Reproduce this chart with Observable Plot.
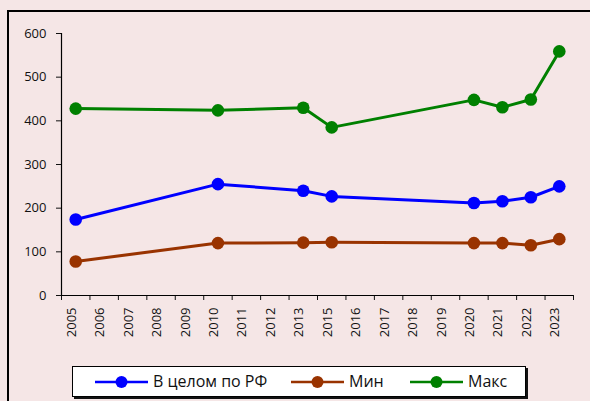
<!DOCTYPE html>
<html><head><meta charset="utf-8">
<script src="https://cdn.jsdelivr.net/npm/d3@7"></script>
<script src="https://cdn.jsdelivr.net/npm/@observablehq/plot@0.6"></script>
<style>
html,body{margin:0;padding:0;background:#f5e6e6;overflow:hidden;width:590px;height:401px}
#chart{position:absolute;left:0;top:0}
#bl{position:absolute;left:7px;top:10px;width:2px;height:400px;background:#000;z-index:5}
#bt{position:absolute;left:7px;top:10px;width:600px;height:2px;background:#000;z-index:5}
#legend{position:absolute;left:72px;top:366px;width:454px;height:31px;background:#fff;border:1px solid #000;box-shadow:2px 2px 0 #111;box-sizing:border-box;font:16px "Open Sans",sans-serif;color:#111}
.item{position:absolute;top:0;height:29px;display:flex;align-items:center}
.item svg{display:block}
.lbl{position:absolute;top:0;height:29px;line-height:29px;white-space:nowrap}
</style></head>
<body>
<div id="chart"></div>
<div id="bl"></div>
<div id="bt"></div>
<div id="legend"></div>
<script>
const categories = ["2005","2006","2007","2008","2009","2010","2011","2012","2013","2015","2016","2017","2018","2019","2020","2021","2022","2023"];
const dataYears = ["2005","2010","2013","2015","2020","2021","2022","2023"];
const seriesNames = ["В целом по РФ","Мин","Макс"];
const seriesColors = ["#0000ff","#993300","#008000"];
const avgValues = [174,255,240,227,212,216,225,250];
const minValues = [78,120,121,122,120,120,115,129];
const maxValues = [428,424,430,385,448,431,449,559];
const yTicks = [0,100,200,300,400,500,600];

const pos = y => categories.indexOf(y) + 0.5;
const data = [];
[avgValues, minValues, maxValues].forEach((vals, k) => {
  dataYears.forEach((yr, i) => data.push({x: pos(yr), v: vals[i], s: seriesNames[k]}));
});

const chart = Plot.plot({
  width: 590,
  height: 362,
  marginLeft: 61,
  marginRight: 17,
  marginTop: 33,
  marginBottom: 67,
  style: {background: "transparent", fontFamily: "'Open Sans', sans-serif", fontSize: "13px", color: "#111", overflow: "visible"},
  x: {domain: [0, categories.length], axis: null},
  y: {domain: [0, 600], axis: null},
  color: {domain: seriesNames, range: seriesColors},
  marks: [
    Plot.axisY({ticks: yTicks, tickSize: 5, tickPadding: 10, tickFormat: d => String(d), fontSize: 13, label: null}),
    Plot.axisX({ticks: d3.range(categories.length + 1), tickSize: 5, tickFormat: () => "", label: null}),
    Plot.ruleX([0], {stroke: "#000", strokeWidth: 1.2}),
    Plot.ruleY([0], {stroke: "#000", strokeWidth: 1.2}),
    Plot.text(categories, {x: (d, i) => i + 0.5, text: d => d, frameAnchor: "bottom", rotate: -90, textAnchor: "end", dy: 12, fontSize: 13, fill: "#111"}),
    Plot.line(data, {x: "x", y: "v", z: "s", stroke: "s", strokeWidth: 3}),
    Plot.dot(data, {x: "x", y: "v", fill: "s", r: 6.3})
  ]
});
document.getElementById("chart").appendChild(chart);

const legend = document.getElementById("legend");
const swX = [22, 218, 337];
const lblX = [80, 276, 395];
seriesNames.forEach((name, k) => {
  const it = document.createElement("div");
  it.className = "item";
  it.style.left = swX[k] + "px";
  it.innerHTML = `<svg width="53" height="14"><line x1="0" x2="53" y1="7" y2="7" stroke="${seriesColors[k]}" stroke-width="2.5"/><circle cx="26.5" cy="7" r="6" fill="${seriesColors[k]}"/></svg>`;
  legend.appendChild(it);
  const l = document.createElement("div");
  l.className = "lbl";
  l.style.left = lblX[k] + "px";
  l.textContent = name;
  legend.appendChild(l);
});
</script>
</body></html>
